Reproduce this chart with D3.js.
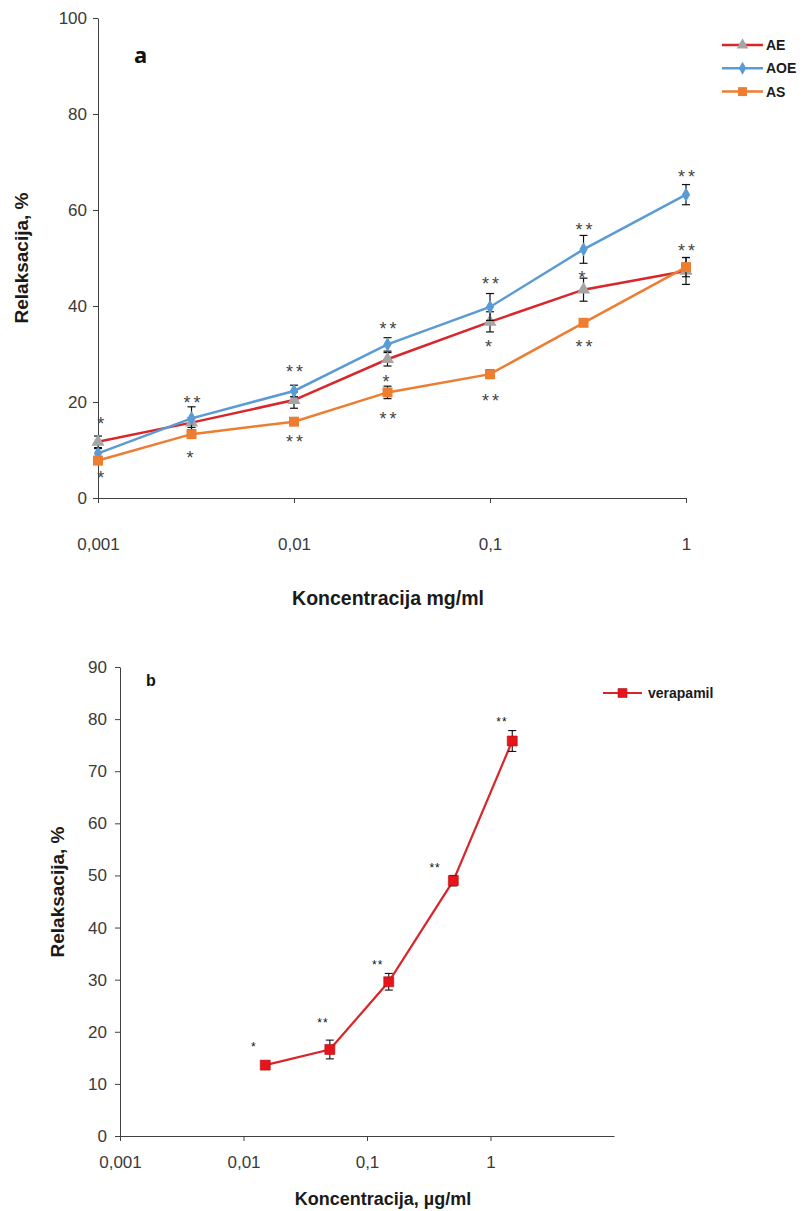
<!DOCTYPE html>
<html>
<head>
<meta charset="utf-8">
<script src="https://cdn.jsdelivr.net/npm/d3@7"></script>
<style>
  html, body { margin: 0; padding: 0; background: #fff; }
  svg { display: block; }
  .tick-label { font-family: "Liberation Sans", Arial, sans-serif; font-size: 17px; fill: #3a3a3a; }
  .axis-title { font-family: "Liberation Sans", Arial, sans-serif; font-weight: bold; fill: #1a1a1a; }
  .legend-text { font-family: "Liberation Sans", Arial, sans-serif; font-size: 14px; font-weight: bold; fill: #1a1a1a; }
</style>
</head>
<body>
<svg id="chart" width="807" height="1211"></svg>
<script>
// ---- Panel a: extracts, relaxation vs concentration (mg/ml) ----
const concA = [0.001, 0.003, 0.01, 0.03, 0.1, 0.3, 1];
const aeMean  = [11.7, 15.7, 20.4, 28.9, 36.7, 43.4, 47.3];
const aeErr   = [1.2, 1.0, 1.7, 1.4, 2.1, 2.4, 2.8];
const aoeMean = [9.3, 16.6, 22.3, 32.0, 39.8, 51.8, 63.2];
const aoeErr  = [1.0, 2.4, 1.2, 1.4, 2.8, 2.9, 2.1];
const asMean  = [7.8, 13.3, 15.9, 22.0, 25.8, 36.5, 48.1];
const asErr   = [0.8, 0.5, 0.5, 1.3, 0.9, 0.6, 2.0];
const seriesNamesA = ["AE", "AOE", "AS"];
const yTicksA = [0, 20, 40, 60, 80, 100];
const xTicksA = [0.001, 0.01, 0.1, 1];
const xTickLabelsA = ["0,001", "0,01", "0,1", "1"];
// significance marks: concentration, relaxation level, text
const sigAConc  = [0.00105, 0.00105, 0.003, 0.003, 0.01, 0.01, 0.03, 0.03, 0.03, 0.1, 0.1, 0.1, 0.3, 0.3, 0.3, 1, 1];
const sigAValue = [16.2, 5.0, 20.6, 9.2, 27.0, 12.4, 36.0, 25.0, 17.3, 45.4, 32.2, 21.1, 56.6, 46.6, 32.3, 67.8, 52.2];
const sigAText  = ["*", "*", "**", "*", "**", "**", "**", "*", "**", "**", "*", "**", "**", "*", "**", "**", "**"];

// ---- Panel b: verapamil, relaxation vs concentration (µg/ml) ----
const concB = [0.015, 0.05, 0.15, 0.5, 1.5];
const verMean = [13.6, 16.6, 29.6, 49.0, 75.8];
const verErr  = [0.6, 1.8, 1.6, 1.0, 2.0];
const yTicksB = [0, 10, 20, 30, 40, 50, 60, 70, 80, 90];
const xTicksB = [0.001, 0.01, 0.1, 1];
const xTickLabelsB = ["0,001", "0,01", "0,1", "1"];
const sigBConc  = [0.0121, 0.044, 0.122, 0.356, 1.237];
const sigBValue = [17.7, 22.3, 33.3, 52.0, 80.1];
const sigBText  = ["*", "**", "**", "**", "**"];

const svg = d3.select("#chart");
const axisColor = "#404040";

function styleAxis(g) {
  g.select(".domain").attr("stroke", axisColor).attr("stroke-width", 1);
  g.selectAll(".tick line").attr("stroke", axisColor).attr("stroke-width", 1);
  g.selectAll(".tick text").attr("class", "tick-label").attr("fill", null);
}

// ================= Panel a =================
const xA = d3.scaleLog().domain([0.001, 1]).range([98, 686]);
const yA = d3.scaleLinear().domain([0, 100]).range([498, 18]);

const gA = svg.append("g");

gA.append("g")
  .attr("transform", `translate(0,${yA(0)})`)
  .call(d3.axisBottom(xA).tickValues(xTicksA).tickFormat((d, i) => xTickLabelsA[i]).tickSize(5).tickPadding(35).tickSizeOuter(0))
  .call(styleAxis);

gA.append("g")
  .attr("transform", `translate(${xA(0.001)},0)`)
  .call(d3.axisLeft(yA).tickValues(yTicksA).tickSize(5).tickPadding(6).tickSizeOuter(0))
  .call(styleAxis);

gA.append("text").attr("class", "axis-title")
  .attr("x", 388).attr("y", 605).attr("text-anchor", "middle")
  .style("font-size", "19.5px")
  .text("Koncentracija mg/ml");
gA.append("text").attr("class", "axis-title")
  .attr("transform", "translate(28,258) rotate(-90)").attr("text-anchor", "middle")
  .style("font-size", "19px")
  .text("Relaksacija, %");
gA.append("text")
  .attr("x", 134).attr("y", 63)
  .style("font-family", "'Noto Sans', 'Open Sans', sans-serif")
  .style("font-size", "22px").style("font-weight", "bold").style("fill", "#111")
  .text("a");

const seriesA = [
  { name: seriesNamesA[0], mean: aeMean,  err: aeErr,  line: "#d8262b", fill: "#a5a5a5", marker: d3.symbolTriangle, size: 75 },
  { name: seriesNamesA[1], mean: aoeMean, err: aoeErr, line: "#5b9bd5", fill: "#5b9bd5", marker: d3.symbolDiamond,  size: 60 },
  { name: seriesNamesA[2], mean: asMean,  err: asErr,  line: "#ed7d31", fill: "#ed7d31", marker: d3.symbolSquare,   size: 100 }
];

const lineA = d3.line().x(d => xA(d.c)).y(d => yA(d.v));

seriesA.forEach(s => {
  const pts = concA.map((c, i) => ({ c, v: s.mean[i], e: s.err[i] }));
  const g = gA.append("g");
  g.append("path").datum(pts)
    .attr("d", lineA).attr("fill", "none")
    .attr("stroke", s.line).attr("stroke-width", 2.5);
  // error bars
  const eb = g.selectAll(".eb").data(pts).enter().append("g");
  eb.append("line")
    .attr("x1", d => xA(d.c)).attr("x2", d => xA(d.c))
    .attr("y1", d => yA(d.v - d.e)).attr("y2", d => yA(d.v + d.e))
    .attr("stroke", "#111").attr("stroke-width", 1.2);
  [1, -1].forEach(sign => {
    eb.append("line")
      .attr("x1", d => xA(d.c) - 4).attr("x2", d => xA(d.c) + 4)
      .attr("y1", d => yA(d.v + sign * d.e)).attr("y2", d => yA(d.v + sign * d.e))
      .attr("stroke", "#111").attr("stroke-width", 1.2);
  });
  // markers
  g.selectAll(".mk").data(pts).enter().append("path")
    .attr("transform", d => `translate(${xA(d.c)},${yA(d.v)})`)
    .attr("d", d3.symbol().type(s.marker).size(s.size))
    .attr("fill", s.fill);
});

// significance marks, panel a
gA.selectAll(".sigA").data(sigAConc.map((c, i) => ({ c, v: sigAValue[i], t: sigAText[i] })))
  .enter().append("text")
  .attr("x", d => xA(d.c) + (d.t.length > 1 ? 2 : 0)).attr("y", d => yA(d.v) + 10)
  .attr("text-anchor", "middle")
  .style("font-family", "'Liberation Sans', Arial, sans-serif")
  .style("font-size", "18px").style("fill", "#444").style("letter-spacing", "3px")
  .text(d => d.t);

// legend, panel a
const legA = gA.append("g");
seriesA.forEach((s, i) => {
  const y = 45 + i * 23.3;
  legA.append("line").attr("x1", 722).attr("x2", 763).attr("y1", y).attr("y2", y)
    .attr("stroke", s.line).attr("stroke-width", 2.5);
  legA.append("path").attr("transform", `translate(742.5,${y})`)
    .attr("d", d3.symbol().type(s.marker).size(s.size * 0.8)).attr("fill", s.fill);
  legA.append("text").attr("class", "legend-text")
    .attr("x", 766).attr("y", y + 5).text(s.name);
});

// ================= Panel b =================
const xB = d3.scaleLog().domain([0.001, 10]).range([120, 614]);
const yB = d3.scaleLinear().domain([0, 90]).range([1136, 667]);

const gB = svg.append("g");

gB.append("g")
  .attr("transform", `translate(0,${yB(0)})`)
  .call(d3.axisBottom(xB).tickValues(xTicksB).tickFormat((d, i) => xTickLabelsB[i]).tickSize(5).tickPadding(15).tickSizeOuter(0))
  .call(styleAxis);

gB.append("g")
  .attr("transform", `translate(${xB(0.001)},0)`)
  .call(d3.axisLeft(yB).tickValues(yTicksB).tickSize(5).tickPadding(8).tickSizeOuter(0))
  .call(styleAxis);

gB.append("text").attr("class", "axis-title")
  .attr("x", 383).attr("y", 1205).attr("text-anchor", "middle")
  .style("font-size", "18px")
  .text("Koncentracija, µg/ml");
gB.append("text").attr("class", "axis-title")
  .attr("transform", "translate(64,892) rotate(-90)").attr("text-anchor", "middle")
  .style("font-size", "19px")
  .text("Relaksacija, %");
gB.append("text")
  .attr("x", 146).attr("y", 686)
  .style("font-family", "'Liberation Sans', Arial, sans-serif")
  .style("font-size", "16px").style("font-weight", "bold").style("fill", "#111")
  .text("b");

const ptsB = concB.map((c, i) => ({ c, v: verMean[i], e: verErr[i] }));
const verColor = "#e8141b";
gB.append("path").datum(ptsB)
  .attr("d", d3.line().x(d => xB(d.c)).y(d => yB(d.v)))
  .attr("fill", "none").attr("stroke", "#d9252a").attr("stroke-width", 2.2);

const ebB = gB.selectAll(".ebB").data(ptsB).enter().append("g");
ebB.append("line")
  .attr("x1", d => xB(d.c)).attr("x2", d => xB(d.c))
  .attr("y1", d => yB(d.v - d.e)).attr("y2", d => yB(d.v + d.e))
  .attr("stroke", "#111").attr("stroke-width", 1.1);
[1, -1].forEach(sign => {
  ebB.append("line")
    .attr("x1", d => xB(d.c) - 4).attr("x2", d => xB(d.c) + 4)
    .attr("y1", d => yB(d.v + sign * d.e)).attr("y2", d => yB(d.v + sign * d.e))
    .attr("stroke", "#111").attr("stroke-width", 1.1);
});
gB.selectAll(".mkB").data(ptsB).enter().append("path")
  .attr("transform", d => `translate(${xB(d.c)},${yB(d.v)})`)
  .attr("d", d3.symbol().type(d3.symbolSquare).size(100))
  .attr("fill", verColor).attr("stroke", "#b01010").attr("stroke-width", 0.6);

gB.selectAll(".sigB").data(sigBConc.map((c, i) => ({ c, v: sigBValue[i], t: sigBText[i] })))
  .enter().append("text")
  .attr("x", d => xB(d.c)).attr("y", d => yB(d.v) + 7)
  .attr("text-anchor", "middle")
  .style("font-family", "'Liberation Sans', Arial, sans-serif")
  .style("font-size", "12px").style("fill", "#111").style("letter-spacing", "1px")
  .text(d => d.t);

// legend, panel b
const legB = gB.append("g");
legB.append("line").attr("x1", 603).attr("x2", 642).attr("y1", 693).attr("y2", 693)
  .attr("stroke", "#d9252a").attr("stroke-width", 2.2);
legB.append("path").attr("transform", "translate(622.5,693)")
  .attr("d", d3.symbol().type(d3.symbolSquare).size(80))
  .attr("fill", verColor).attr("stroke", "#b01010").attr("stroke-width", 0.6);
legB.append("text").attr("class", "legend-text")
  .attr("x", 648).attr("y", 698).text("verapamil");
</script>
</body>
</html>
